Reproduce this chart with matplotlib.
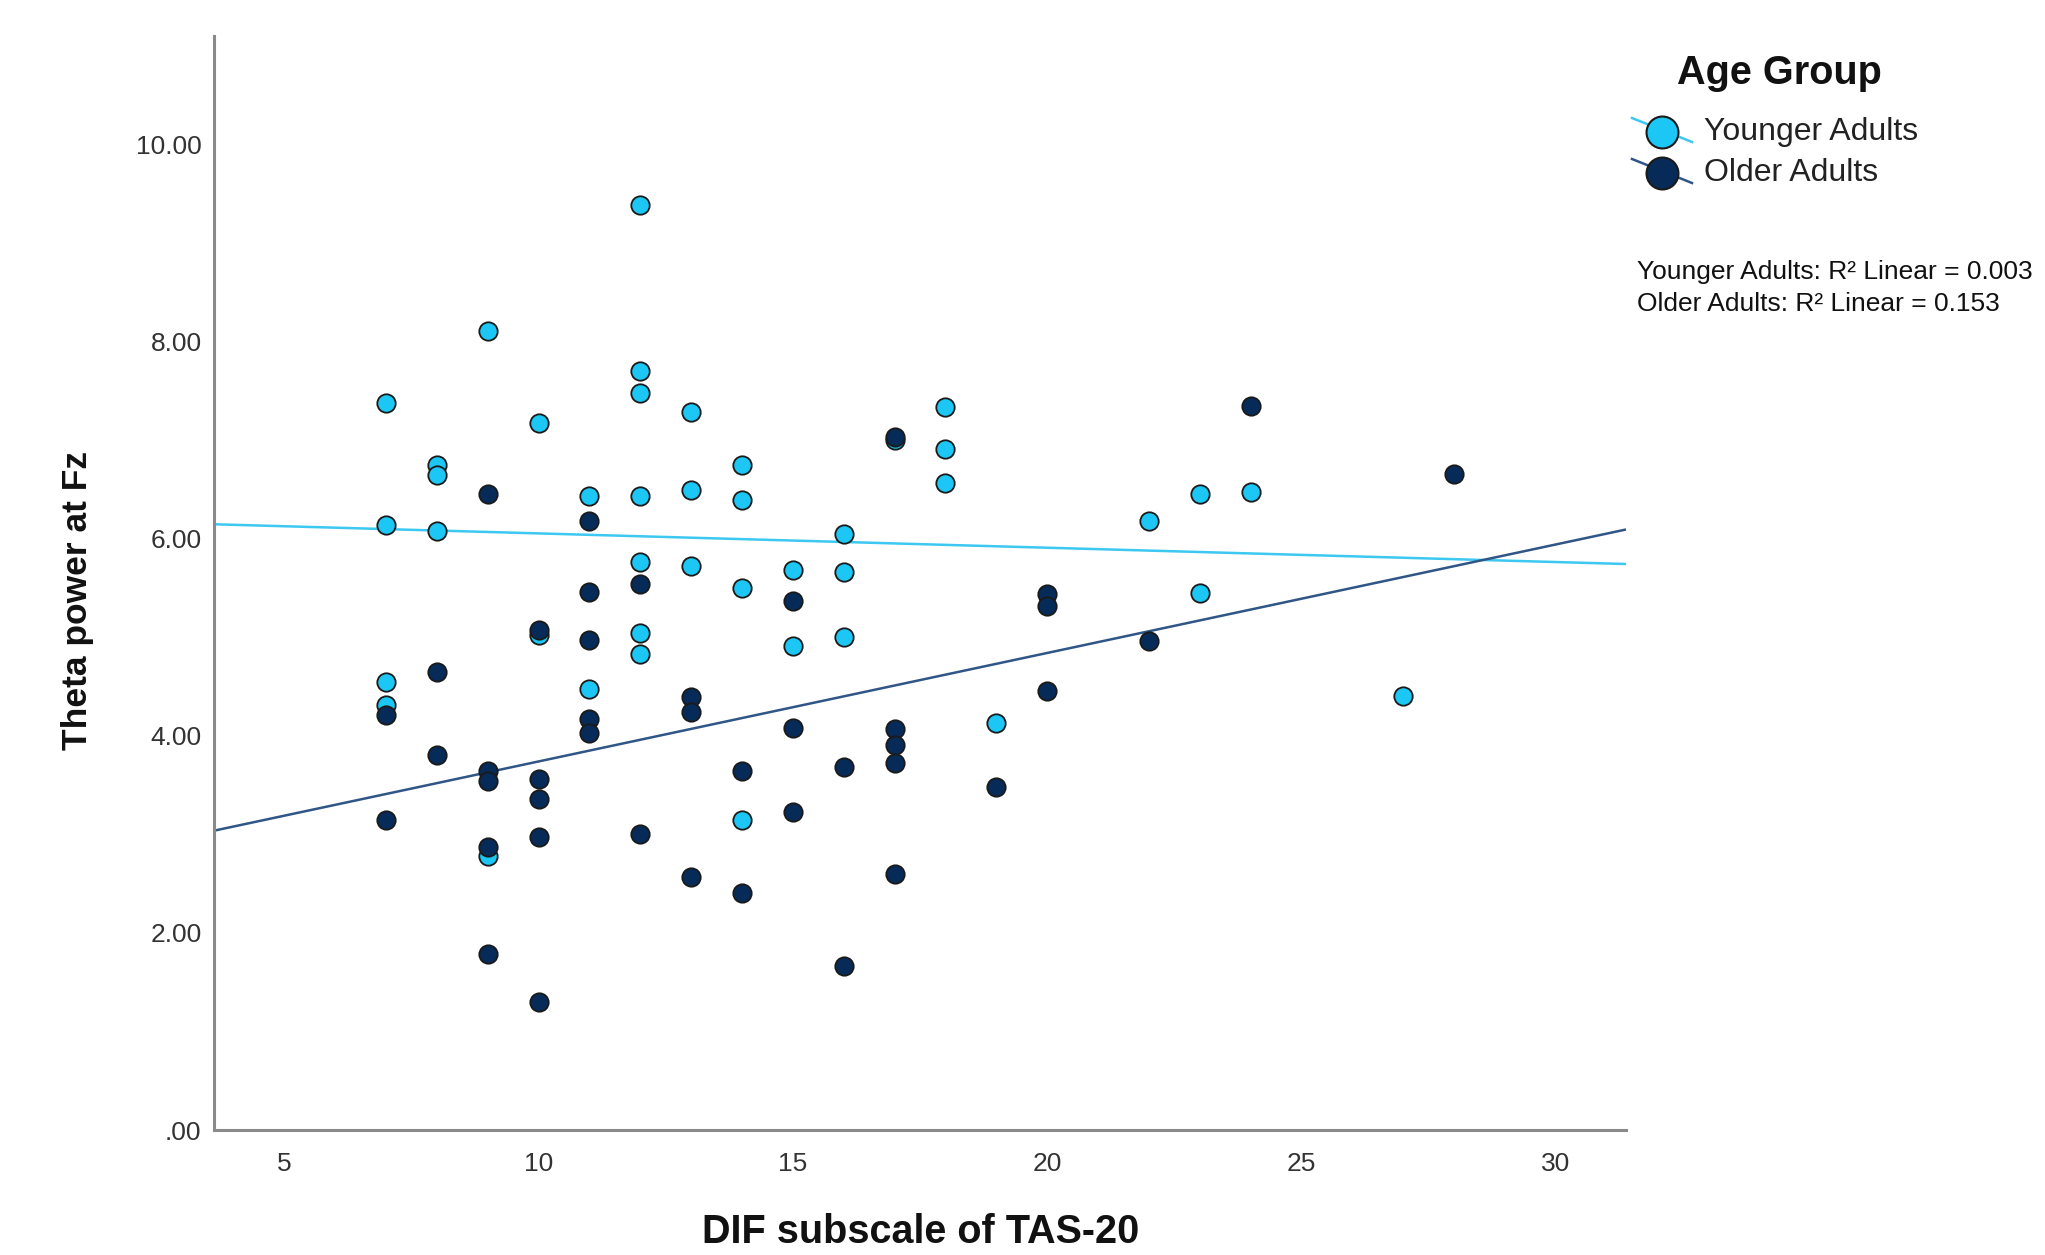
import numpy as np
import matplotlib
matplotlib.use("Agg")
import matplotlib.pyplot as plt
from matplotlib.lines import Line2D
from matplotlib.ticker import FuncFormatter

# ---------------- data ----------------
young_x = [7, 7, 7, 7,
           8, 8, 8,
           9, 9,
           10, 10,
           11, 11,
           12, 12, 12, 12, 12, 12, 12,
           13, 13, 13,
           14, 14, 14, 14,
           15, 15,
           16, 16, 16,
           17,
           18, 18, 18,
           19,
           22,
           23, 23,
           24,
           27]
young_y = [7.38, 6.14, 4.55, 4.31,
           6.75, 6.65, 6.08,
           8.11, 2.78,
           7.17, 5.02,
           6.43, 4.47,
           9.39, 7.70, 7.48, 6.43, 5.76, 5.04, 4.83,
           7.28, 6.49, 5.72,
           6.75, 6.39, 5.50, 3.15,
           5.68, 4.91,
           6.05, 5.66, 5.00,
           7.00,
           7.34, 6.91, 6.56,
           4.13,
           6.18,
           6.45, 5.45,
           6.47,
           4.40]

old_x = [7, 7,
         8, 8,
         9, 9, 9, 9, 9,
         10, 10, 10, 10, 10,
         11, 11, 11, 11, 11,
         12, 12,
         13, 13, 13,
         14, 14,
         15, 15, 15,
         16, 16,
         17, 17, 17, 17, 17,
         19,
         20, 20, 20,
         22,
         24,
         28]
old_y = [4.21, 3.15,
         4.65, 3.80,
         6.45, 3.64, 3.54, 2.87, 1.79,
         5.07, 3.56, 3.36, 2.97, 1.30,
         6.18, 5.46, 4.97, 4.17, 4.03,
         5.54, 3.00,
         4.39, 4.24, 2.57,
         3.64, 2.40,
         5.37, 4.08, 3.23,
         3.68, 1.66,
         7.03, 4.07, 3.91, 3.72, 2.60,
         3.48,
         5.44, 5.32, 4.45,
         4.96,
         7.35,
         6.66]

groups = ["Younger Adults", "Older Adults"]
r2_labels = ["Younger Adults: R\u00b2 Linear = 0.003",
             "Older Adults: R\u00b2 Linear = 0.153"]
x_ticks = [5, 10, 15, 20, 25, 30]
y_ticks = [0, 2, 4, 6, 8, 10]

# ---------------- style ----------------
YOUNG_FILL = "#1CC7F5"
OLD_FILL = "#072B58"
YOUNG_LINE = "#3CC8F0"
OLD_LINE = "#2F5686"
FONT = "Liberation Sans"

W, H = 2045, 1255
fig = plt.figure(figsize=(W / 100, H / 100), dpi=100)
ax = fig.add_axes([214 / W, 1 - 1130 / H, 1412 / W, (1130 - 36) / H])

xlim = (3.62, 31.38)
ylim = (0, 11.1)
ax.set_xlim(*xlim)
ax.set_ylim(*ylim)

# regression lines (computed from the data)
xs = np.array(xlim)
for gx, gy, col in [(young_x, young_y, YOUNG_LINE), (old_x, old_y, OLD_LINE)]:
    b, a = np.polyfit(gx, gy, 1)
    ax.plot(xs, a + b * xs, color=col, lw=1.8, zorder=2, solid_capstyle="butt")

ax.scatter(young_x, young_y, s=175, c=YOUNG_FILL, edgecolors="#1a1a1a",
           linewidths=1.3, zorder=3)
ax.scatter(old_x, old_y, s=175, c=OLD_FILL, edgecolors="#1a1a1a",
           linewidths=1.3, zorder=4)

for s in ["top", "right"]:
    ax.spines[s].set_visible(False)
for s in ["left", "bottom"]:
    ax.spines[s].set_color("#8a8a8a")
    ax.spines[s].set_linewidth(2.2)

ax.set_xticks(x_ticks)
ax.set_yticks(y_ticks)
ax.yaxis.set_major_formatter(FuncFormatter(
    lambda v, p: ".00" if v == 0 else f"{v:.2f}"))
ax.tick_params(axis="both", length=0, labelsize=19, labelcolor="#333333")
ax.tick_params(axis="y", pad=9)
ax.tick_params(axis="x", pad=16)
for lab in ax.get_xticklabels() + ax.get_yticklabels():
    lab.set_fontfamily(FONT)

fig.text(921 / W, 1 - 1232 / H, "DIF subscale of TAS-20", ha="center",
         va="center", fontsize=28.5, fontweight="bold", family=FONT,
         color="#111111")
fig.text(78 / W, 1 - 600 / H, "Theta power at Fz", ha="center", va="center",
         rotation=90, fontsize=25.5, fontweight="bold", family=FONT,
         color="#111111")

# legend (manually placed, as in the reference)
fig.text(1779 / W, 1 - 73 / H, "Age Group", ha="center", va="center",
         fontsize=28.5, fontweight="bold", family=FONT, color="#111111")
entries = [(groups[0], YOUNG_FILL, YOUNG_LINE, 132),
           (groups[1], OLD_FILL, OLD_LINE, 173)]
for name, fill, lcol, yc in entries:
    fig.add_artist(Line2D([1632 / W, 1692 / W],
                          [1 - (yc - 14) / H, 1 - (yc + 10) / H],
                          color=lcol, lw=1.8, transform=fig.transFigure))
    fig.add_artist(Line2D([1662 / W], [1 - yc / H], marker="o",
                          markersize=23, markerfacecolor=fill,
                          markeredgecolor="#1a1a1a", markeredgewidth=1.5,
                          transform=fig.transFigure))
    fig.text(1704 / W, 1 - yc / H, name, ha="left", va="center",
             fontsize=23, family=FONT, color="#222222")

fig.text(1637 / W, 1 - 272 / H, r2_labels[0], ha="left", va="center",
         fontsize=19, family=FONT, color="#111111")
fig.text(1637 / W, 1 - 304 / H, r2_labels[1], ha="left", va="center",
         fontsize=19, family=FONT, color="#111111")

fig.savefig("out.png", dpi=100)
